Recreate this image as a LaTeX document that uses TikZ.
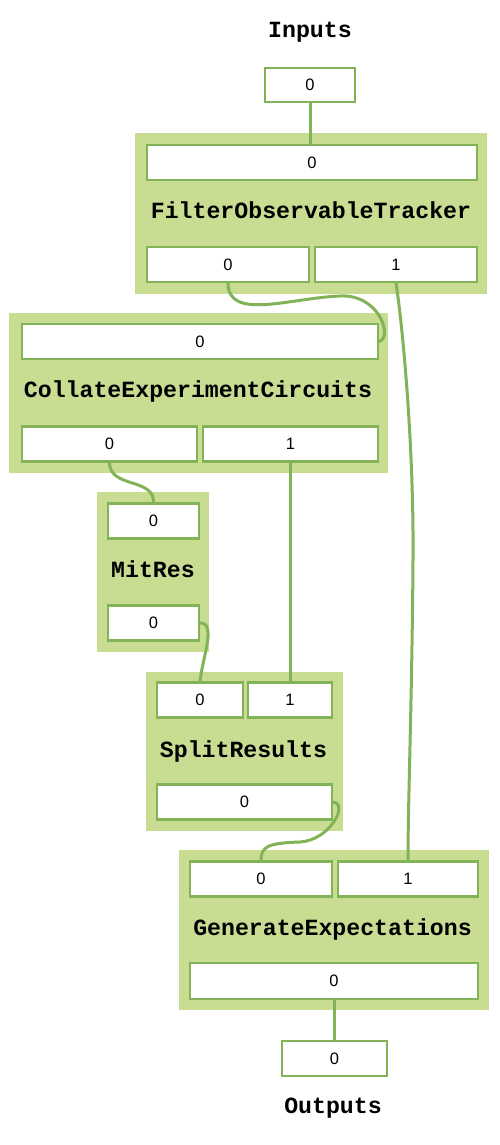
\documentclass[tikz,border=0pt]{standalone}
\usepackage{fontspec}
\setmainfont{Liberation Sans}
\newfontfamily\codefont{Liberation Mono}
\definecolor{clusterfill}{RGB}{200,220,146}
\definecolor{portline}{RGB}{130,179,87}
\begin{document}
\begin{tikzpicture}[x=1pt,y=-1pt,
  port/.style={draw=portline, fill=white, line width=2.1pt, inner sep=0pt,
    minimum height=35pt, font=\fontsize{16.5}{19}\selectfont},
  cluster/.style={fill=clusterfill, inner sep=0pt},
  title/.style={anchor=base, inner sep=0pt, font=\codefont\bfseries\fontsize{23.2}{26}\selectfont},
  edge/.style={draw=portline, line width=3pt}]
\useasboundingbox (0,0) rectangle (500,1145);
% clusters
\node[cluster, minimum width=352pt, minimum height=161pt] (fot) at (311,213.5) {};
\node[cluster, minimum width=379pt, minimum height=160pt] (cec) at (198.5,393) {};
\node[cluster, minimum width=112pt, minimum height=160pt] (mr) at (153,572) {};
\node[cluster, minimum width=197pt, minimum height=159pt] (sr) at (244.5,751.5) {};
\node[cluster, minimum width=310pt, minimum height=160pt] (ge) at (334,930) {};
% titles
\node[title] (tin) at (310,38) {Inputs};
\node[title] (tfot) at (311,218) {FilterObservableTracker};
\node[title] (tcec) at (198,397) {CollateExperimentCircuits};
\node[title] (tmr) at (153,577) {MitRes};
\node[title] (tsr) at (243.5,757) {SplitResults};
\node[title] (tge) at (332.5,935) {GenerateExpectations};
\node[title] (tout) at (333,1113) {Outputs};
% ports
\node[port, minimum width=90pt, minimum height=34pt] (in0) at (310,85) {0};
\node[port, minimum width=330pt] (fot_i0) at (312,162.5) {0};
\node[port, minimum width=162pt] (fot_o0) at (228,264.5) {0};
\node[port, minimum width=162pt] (fot_o1) at (396,264.5) {1};
\node[port, minimum width=356pt] (cec_i0) at (200,341.5) {0};
\node[port, minimum width=175pt] (cec_o0) at (109.5,444) {0};
\node[port, minimum width=175pt] (cec_o1) at (290.5,444) {1};
\node[port, minimum width=91pt] (mr_i0) at (153.5,521) {0};
\node[port, minimum width=91pt] (mr_o0) at (153.5,623) {0};
\node[port, minimum width=86pt] (sr_i0) at (200,700) {0};
\node[port, minimum width=84pt] (sr_i1) at (290,700) {1};
\node[port, minimum width=175pt] (sr_o0) at (244.5,802) {0};
\node[port, minimum width=142pt] (ge_i0) at (261,879) {0};
\node[port, minimum width=140pt] (ge_i1) at (408,879) {1};
\node[port, minimum width=288pt, minimum height=36pt] (ge_o0) at (334,981) {0};
\node[port, minimum width=105pt] (out0) at (334.5,1058.5) {0};
% edges
\draw[edge] (in0.south) -- (in0.south |- fot_i0.north);
\draw[edge] (fot_o0.south) .. controls +(0,38) and +(-50,2) .. (340,296)
  .. controls +(40,-2) and +(14,-3.5) .. (cec_i0.east);
\draw[edge] (fot_o1.south) .. controls +(7,45) and +(1,-110) .. (413,560)
  .. controls +(-1,140) and +(0,-60) .. (ge_i1.north);
\draw[edge] (cec_o0.south) .. controls +(0,26) and +(1,-25) .. (mr_i0.north);
\draw[edge] (cec_o1.south) -- (cec_o1.south |- sr_i1.north);
\draw[edge] (mr_o0.east) .. controls +(17,-1) and +(2,-22) .. (sr_i0.north);
\draw[edge] (sr_o0.east) .. controls +(16,2) and +(30,-2) .. (300,842)
  .. controls +(-32,1) and +(0,-14) .. (ge_i0.north);
\draw[edge] (ge_o0.south) -- (ge_o0.south |- out0.north);
\end{tikzpicture}
\end{document}
